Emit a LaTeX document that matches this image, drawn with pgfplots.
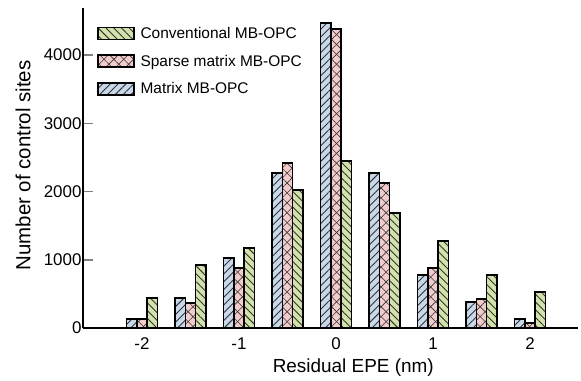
\documentclass[border=0pt]{standalone}
\usepackage{pgfplots}
\pgfplotsset{compat=1.18}
\usepackage{fontspec}
\setmainfont{Liberation Sans}
\usetikzlibrary{patterns.meta}
\definecolor{cblue}{RGB}{200,216,234}
\definecolor{cpink}{RGB}{242,204,204}
\definecolor{cgreen}{RGB}{210,226,170}
\tikzset{
  hatchNE/.style={postaction={pattern={Lines[angle=45,distance=5.5bp,line width=0.9bp]},pattern color=black!80}},
  hatchNW/.style={postaction={pattern={Lines[angle=-45,distance=5.5bp,line width=0.9bp]},pattern color=black!80}},
  hatchX/.style={postaction={pattern={Lines[angle=45,distance=7bp,line width=0.6bp]},pattern color=black!80},
                 postaction={pattern={Lines[angle=-45,distance=7bp,line width=0.6bp]},pattern color=black!80}},
}
\begin{document}
\begin{tikzpicture}
\useasboundingbox (-83bp,-53bp) rectangle (498bp,328bp);
\begin{axis}[
  at={(0,0)}, anchor=south west,
  scale only axis,
  width=495bp, height=320bp,
  xmin=-2.608, xmax=2.495,
  ymin=0, ymax=4690,
  axis lines*=left,
  axis line style={line width=1.5bp},
  ybar=0pt,
  bar width=10.3bp,
  xtick={-2,-1,0,1,2},
  xticklabels={-2,-1,0,1,2},
  ytick={0,1000,2000,3000,4000},
  yticklabels={0,1000,2000,3000,4000},
  xtick style={draw=none},
  ytick style={line width=1.5bp},
  tick align=inside,
  major tick length=10bp,
  tick label style={font=\fontsize{17}{20}\selectfont},
  xticklabel style={yshift=-6bp},
  yticklabel style={xshift=2bp},
  xlabel={Residual EPE (nm)},
  ylabel={Number of control sites},
  xlabel style={font=\fontsize{19}{22}\selectfont, at={(axis description cs:0.546,-0.125)},anchor=center},
  ylabel style={font=\fontsize{20.5}{23}\selectfont, at={(axis description cs:-0.121,0.508)},anchor=center},
  reverse legend,
  legend style={draw=none, fill=none, at={(axis description cs:0.028,0.947)}, anchor=north west,
    font=\fontsize{15.5}{18}\selectfont, row sep=11bp, inner xsep=0pt, inner ysep=0pt},
  legend cell align=left,
  legend image code/.code={\draw[#1,line width=1.5bp] (0bp,-6bp) rectangle (36bp,6bp); \path (40bp,0bp);},
  every axis plot/.append style={draw=black, line width=1.5bp},
]
\addplot[fill=cblue, hatchNE] coordinates {(-2,130) (-1.5,440) (-1,1025) (-0.5,2270) (0,4470) (0.5,2270) (1,776) (1.5,380) (2,130)};
\addplot[fill=cpink, hatchX] coordinates {(-2,130) (-1.5,370) (-1,880) (-0.5,2420) (0,4380) (0.5,2125) (1,880) (1.5,425) (2,75)};
\addplot[fill=cgreen, hatchNW] coordinates {(-2,440) (-1.5,925) (-1,1170) (-0.5,2020) (0,2450) (0.5,1685) (1,1275) (1.5,776) (2,527)};
\legend{Matrix MB-OPC, Sparse matrix MB-OPC, Conventional MB-OPC}
\end{axis}
\end{tikzpicture}
\end{document}
